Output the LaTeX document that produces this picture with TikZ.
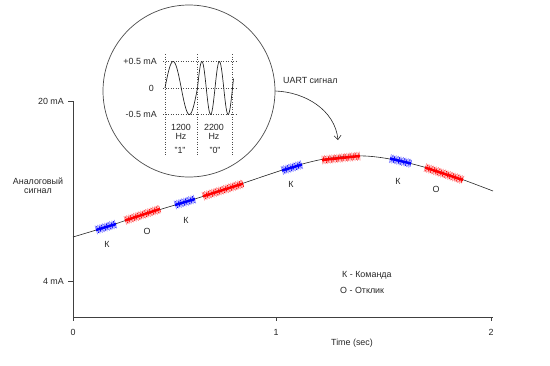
\documentclass[tikz,border=0pt]{standalone}
\usepackage{fontspec}
\setmainfont{Liberation Sans}
\usetikzlibrary{arrows.meta}

\tikzset{
  lbl/.style={font=\fontsize{8.9}{9}\selectfont, inner sep=0pt, text=black!85},
  axis/.style={black!75, line width=0.6},
  grid/.style={black!70, dotted, line width=0.5},
}

\begin{document}
\begin{tikzpicture}[x=1pt,y=-1pt]
  \useasboundingbox (0,0) rectangle (550,365);
  % axes
  \draw[axis] (73,101) -- (73,317) -- (493,317);
  \foreach \x/\t in {73/0,276/1,491/2}
    \draw[axis] (\x,317) -- (\x,321) node[lbl,below=8pt] (t\t) {\t};
  \node[lbl] (tlabel) at (352,343) {Time (sec)};
  \draw[axis] (68,101) -- (73,101);
  \draw[axis] (68,281) -- (73,281);
  \node[lbl,anchor=east] (ma20) at (64,101) {20 mA};
  \node[lbl,anchor=east] (ma4) at (64,281) {4 mA};
  \node[lbl,align=center] (ylabel) at (38,186) {Аналоговый\\сигнал};
  % analog signal
  \draw[black!85, line width=0.6] plot[smooth,tension=0.55] coordinates {(73,237) (106,227) (142,215) (185,202)
    (223,190) (292,167) (330,158) (365,156) (400,161) (444,173) (493,191)};
  % HART bursts
  \foreach \xa/\ya/\xb/\yb/\c in {96/230/116/224/blue, 125/220.5/160/209/red, 175/205/195/199/blue,
      203/196.3/243/183.6/red, 282/170.5/302/164.5/blue, 322/160/360/156/red,
      390/158.5/411/163.5/blue, 425/167.5/463/180/red} {
    \draw[\c!45, line width=9, dash pattern=on 0.7 off 1.8] (\xa,\ya) -- (\xb,\yb);
    \draw[\c, line width=7, dash pattern=on 0.7 off 1.8, dash phase=1.2] (\xa,\ya) -- (\xb,\yb);
    \draw[\c, line width=2.5] (\xa,\ya) -- (\xb,\yb);
  }
  \node[lbl] (k1) at (107,244) {К};
  \node[lbl] (o1) at (147,231) {О};
  \node[lbl] (k2) at (186,220) {К};
  \node[lbl] (k3) at (291,184) {К};
  \node[lbl] (k4) at (398,181) {К};
  \node[lbl] (o2) at (436,189) {О};
  % legend
  \node[lbl,anchor=west] (legK) at (342,275) {К - Команда};
  \node[lbl,anchor=west] (legO) at (340,290) {О - Отклик};
  % magnifier
  \node[circle,draw=black!70,line width=0.7,minimum size=172,inner sep=0] (lens) at (189,91) {};
  \foreach \y in {61,88,114} \draw[grid] (163,\y) -- (237,\y);
  \foreach \x in {165,197,232} \draw[grid] (\x,54) -- (\x,155);
  \draw[black!85, line width=0.7] plot[domain=165:197.5,samples=50] (\x,{88-26.5*sin(360*(\x-165)/32.5)});
  \draw[black!85, line width=0.7] plot[domain=197.5:233.5,samples=70] (\x,{88-26.5*sin(360*(\x-197.5)/17.5)});
  \node[lbl,anchor=east] (pplus) at (157,61) {+0.5 mA};
  \node[lbl,anchor=east] (pzero) at (154,88) {0};
  \node[lbl,anchor=east] (pminus) at (157,114) {-0.5 mA};
  \node[lbl,align=center] (f1200) at (181,132) {1200\\Hz};
  \node[lbl,align=center] (f2200) at (214,132) {2200\\Hz};
  \node[lbl] (bit1) at (180,150) {"1"};
  \node[lbl] (bit0) at (215,150) {"0"};
  % UART pointer
  \node[lbl,anchor=west] (uart) at (283,80) {UART сигнал};
  \coordinate (uarttip) at (338,140);
  \draw[black!85,line width=0.6,-{Straight Barb[length=4,width=7]}] (lens.east) .. controls (305,92) and (335,110) .. (uarttip);
\end{tikzpicture}
\end{document}
